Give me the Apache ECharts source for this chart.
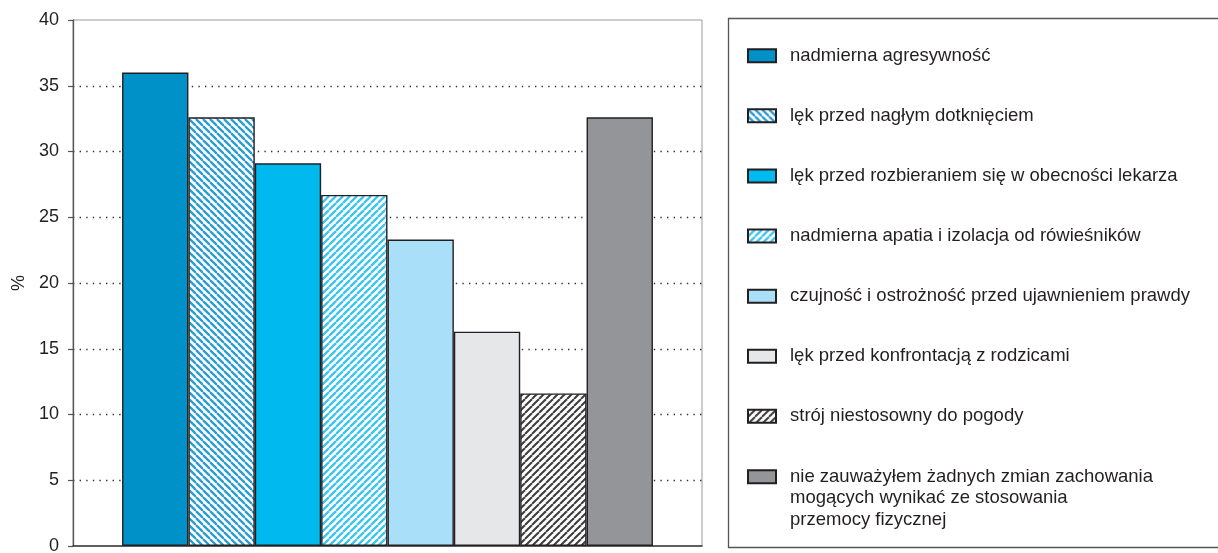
<!DOCTYPE html>
<html>
<head>
<meta charset="utf-8">
<script src="https://cdn.jsdelivr.net/npm/echarts@6/dist/echarts.min.js"></script>
<style>
  html, body { margin: 0; padding: 0; background: #fff; }
  #chart { width: 1218px; height: 553px; }
</style>
</head>
<body>
<div id="chart"></div>
<script>
// Reasons / observed behaviours (legend entries), one bar each
const behaviours = [
  'nadmierna agresywność',
  'lęk przed nagłym dotknięciem',
  'lęk przed rozbieraniem się w obecności lekarza',
  'nadmierna apatia i izolacja od rówieśników',
  'czujność i ostrożność przed ujawnieniem prawdy',
  'lęk przed konfrontacją z rodzicami',
  'strój niestosowny do pogody',
  'nie zauważyłem żadnych zmian zachowania\nmogących wynikać ze stosowania\nprzemocy fizycznej'
];
// Share of respondents, %
const shares = [36.0, 32.6, 29.1, 26.7, 23.3, 16.3, 11.6, 32.6];
// Value axis
const yMin = 0, yMax = 40, yStep = 5;

// Diagonal hatch tile for the patterned bars
function hatch(fg, bg, dir, step, lw) {
  const c = document.createElement('canvas');
  c.width = c.height = step;
  const ctx = c.getContext('2d');
  ctx.fillStyle = bg;
  ctx.fillRect(0, 0, step, step);
  ctx.strokeStyle = fg;
  ctx.lineWidth = lw;
  for (let k = -1; k <= 1; k++) {
    ctx.beginPath();
    if (dir === '/') {
      ctx.moveTo(k * step, step);
      ctx.lineTo(k * step + step, 0);
    } else {
      ctx.moveTo(k * step, 0);
      ctx.lineTo(k * step + step, step);
    }
    ctx.stroke();
  }
  return { image: c, repeat: 'repeat' };
}

const fills = [
  '#0091c8',
  hatch('#2a9cd2', '#ffffff', '\\', 7, 2.3),
  '#00b9ef',
  hatch('#3cc4f0', '#ffffff', '/', 7, 2.3),
  '#aadff9',
  '#e6e7e9',
  hatch('#3d3d3d', '#ffffff', '/', 7, 2.0),
  '#939598'
];

const LH = 21.5;
const series = behaviours.map((name, i) => ({
  name: name,
  type: 'bar',
  barGap: '0%',
  barCategoryGap: '15.6%',
  itemStyle: { color: fills[i], borderColor: '#231f20', borderWidth: 1.4 },
  data: [shares[i]]
}));

const legendCommon = {
  orient: 'vertical',
  left: 747,
  width: 460,
  height: 900,
  padding: 0,
  itemWidth: 28,
  itemHeight: 13,
  itemGap: 38.6,
  icon: 'rect',
  selectedMode: false,
  textStyle: { fontSize: 18.5, color: '#231f20', lineHeight: LH, padding: [0, 0, 0, 9] }
};

const chart = echarts.init(document.getElementById('chart'), null, { renderer: 'canvas' });
chart.setOption({
  animation: false,
  backgroundColor: '#ffffff',
  textStyle: { fontFamily: '"Liberation Sans", Arial, Helvetica, sans-serif' },
  grid: {
    left: 73, top: 20, right: 516, bottom: 7,
    outerBoundsMode: 'none',
    containLabel: false,
    show: true, borderColor: '#9a9a9a', borderWidth: 1, backgroundColor: 'transparent'
  },
  xAxis: {
    type: 'category',
    data: [''],
    axisLine: { lineStyle: { color: '#3a3a3a', width: 1.5 } },
    axisTick: { show: false },
    axisLabel: { show: false }
  },
  yAxis: {
    type: 'value',
    min: yMin, max: yMax, interval: yStep,
    name: '%',
    nameLocation: 'middle',
    nameGap: 44,
    nameRotate: 90,
    nameTextStyle: { fontSize: 18, color: '#231f20' },
    axisLine: { show: true, lineStyle: { color: '#555555', width: 1.3 } },
    axisTick: { show: true, length: 5, lineStyle: { color: '#555555', width: 1.2 } },
    axisLabel: { fontSize: 18, color: '#231f20', margin: 14 },
    splitLine: {
      show: true,
      showMinLine: false,
      showMaxLine: false,
      lineStyle: { color: '#333333', width: 1.4, type: [1.4, 5.2] }
    }
  },
  legend: [
    Object.assign({}, legendCommon, {
      top: 45,
      data: behaviours.slice(0, 7)
    }),
    // three-line entry: two blank lines above keep the swatch level with its first line
    Object.assign({}, legendCommon, {
      top: 423,
      data: behaviours.slice(7),
      formatter: (name) => '\n\n' + name
    })
  ],
  graphic: [{
    type: 'rect',
    left: 726, top: 16,
    shape: { width: 600, height: 529 },
    style: { fill: 'none', stroke: '#555555', lineWidth: 1.3 },
    z: -1
  }],
  series: series
});
</script>
</body>
</html>
